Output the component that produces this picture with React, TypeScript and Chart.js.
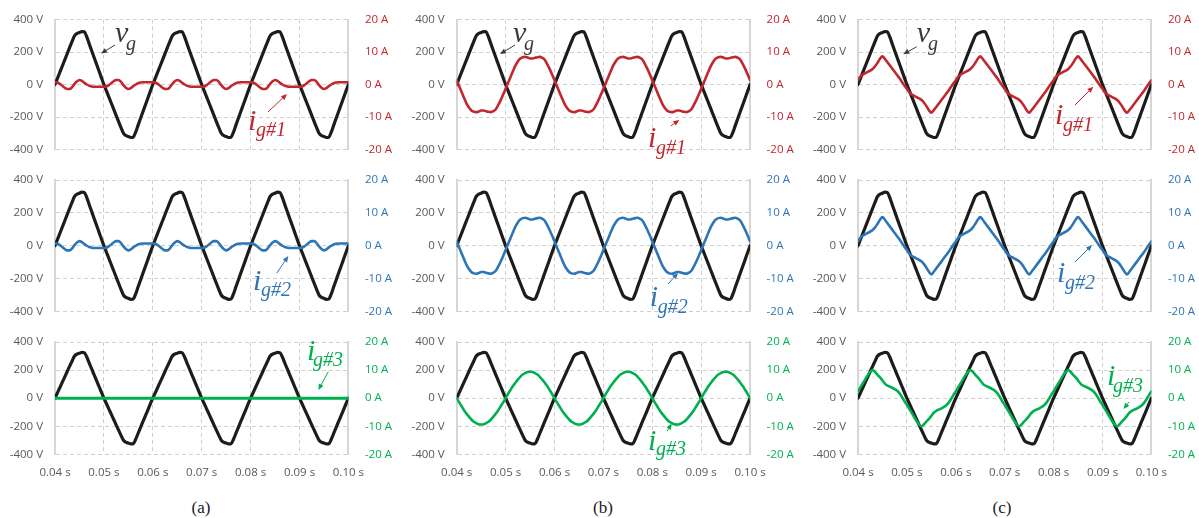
import React, { useEffect, useRef } from "react";
import { Chart, registerables } from "chart.js";

Chart.register(...registerables);

// ---------------- data ----------------
// sample instants: every 0.5 ms from 0.04 s to 0.10 s (121 samples)
const TIMES: number[] = Array.from({ length: 121 }, (_, i) => Math.round((0.04 + i * 0.0005) * 10000) / 10000);

// grid voltage v_g (V) — identical in all nine panels
const VOLTAGE: number[] = [
  0,
  38, 76, 114, 152, 190, 228, 265, 300, 314, 320, 326, 324, 293, 250, 208, 166, 125, 83, 41, 0,
  -38, -76, -114, -152, -190, -228, -265, -300, -314, -320, -326, -324, -293, -250, -208, -166, -125, -83, -41, 0,
  38, 76, 114, 152, 190, 228, 265, 300, 314, 320, 326, 324, 293, 250, 208, 166, 125, 83, 41, 0,
  -38, -76, -114, -152, -190, -228, -265, -300, -314, -320, -326, -324, -293, -250, -208, -166, -125, -83, -41, 0,
  38, 76, 114, 152, 190, 228, 265, 300, 314, 320, 326, 324, 293, 250, 208, 166, 125, 83, 41, 0,
  -38, -76, -114, -152, -190, -228, -265, -300, -314, -320, -326, -324, -293, -250, -208, -166, -125, -83, -41, 0,
];

// (a) i_g#1 and i_g#2 (identical in the picture), A
const CURRENT_A_12: number[] = [
  0.7,
  0.6, 0.2, -0.4, -1.0, -1.4, -1.4, -0.8, 0.2, 1.0, 1.4, 1.1, 0.5, 0.0, -0.4, -0.6, -0.7, -0.7, -0.7, -0.7, -0.7,
  -0.6, -0.2, 0.4, 1.0, 1.4, 1.4, 0.8, -0.2, -1.0, -1.4, -1.1, -0.5, 0.0, 0.4, 0.6, 0.7, 0.7, 0.7, 0.7, 0.7,
  0.6, 0.2, -0.4, -1.0, -1.4, -1.4, -0.8, 0.2, 1.0, 1.4, 1.1, 0.5, 0.0, -0.4, -0.6, -0.7, -0.7, -0.7, -0.7, -0.7,
  -0.6, -0.2, 0.4, 1.0, 1.4, 1.4, 0.8, -0.2, -1.0, -1.4, -1.1, -0.5, 0.0, 0.4, 0.6, 0.7, 0.7, 0.7, 0.7, 0.7,
  0.6, 0.2, -0.4, -1.0, -1.4, -1.4, -0.8, 0.2, 1.0, 1.4, 1.1, 0.5, 0.0, -0.4, -0.6, -0.7, -0.7, -0.7, -0.7, -0.7,
  -0.6, -0.2, 0.4, 1.0, 1.4, 1.4, 0.8, -0.2, -1.0, -1.4, -1.1, -0.5, 0.0, 0.4, 0.6, 0.7, 0.7, 0.7, 0.7, 0.7,
];

// (a) i_g#3, A
const CURRENT_A_3: number[] = [
  0,
  0, 0, 0, 0, 0, 0, 0, 0, 0, 0, 0, 0, 0, 0, 0, 0, 0, 0, 0, 0,
  0, 0, 0, 0, 0, 0, 0, 0, 0, 0, 0, 0, 0, 0, 0, 0, 0, 0, 0, 0,
  0, 0, 0, 0, 0, 0, 0, 0, 0, 0, 0, 0, 0, 0, 0, 0, 0, 0, 0, 0,
  0, 0, 0, 0, 0, 0, 0, 0, 0, 0, 0, 0, 0, 0, 0, 0, 0, 0, 0, 0,
  0, 0, 0, 0, 0, 0, 0, 0, 0, 0, 0, 0, 0, 0, 0, 0, 0, 0, 0, 0,
  0, 0, 0, 0, 0, 0, 0, 0, 0, 0, 0, 0, 0, 0, 0, 0, 0, 0, 0, 0,
];

// (b) i_g#1 and i_g#2, A
const CURRENT_B_12: number[] = [
  1.3,
  -0.5, -2.3, -4.1, -5.8, -7.1, -8.0, -8.4, -8.5, -8.3, -8.0, -8.0, -8.2, -8.4, -8.5, -8.2, -7.6, -6.3, -4.8, -3.1, -1.3,
  0.5, 2.3, 4.1, 5.8, 7.1, 8.0, 8.4, 8.5, 8.3, 8.0, 8.0, 8.2, 8.4, 8.5, 8.2, 7.6, 6.3, 4.8, 3.1, 1.3,
  -0.5, -2.3, -4.1, -5.8, -7.1, -8.0, -8.4, -8.5, -8.3, -8.0, -8.0, -8.2, -8.4, -8.5, -8.2, -7.6, -6.3, -4.8, -3.1, -1.3,
  0.5, 2.3, 4.1, 5.8, 7.1, 8.0, 8.4, 8.5, 8.3, 8.0, 8.0, 8.2, 8.4, 8.5, 8.2, 7.6, 6.3, 4.8, 3.1, 1.3,
  -0.5, -2.3, -4.1, -5.8, -7.1, -8.0, -8.4, -8.5, -8.3, -8.0, -8.0, -8.2, -8.4, -8.5, -8.2, -7.6, -6.3, -4.8, -3.1, -1.3,
  0.5, 2.3, 4.1, 5.8, 7.1, 8.0, 8.4, 8.5, 8.3, 8.0, 8.0, 8.2, 8.4, 8.5, 8.2, 7.6, 6.3, 4.8, 3.1, 1.3,
];

// (b) i_g#3, A
const CURRENT_B_3: number[] = [
  0,
  -1.5, -2.9, -4.3, -5.5, -6.6, -7.6, -8.4, -8.9, -9.3, -9.4, -9.3, -8.9, -8.4, -7.6, -6.6, -5.5, -4.3, -2.9, -1.5, 0,
  1.5, 2.9, 4.3, 5.5, 6.6, 7.6, 8.4, 8.9, 9.3, 9.4, 9.3, 8.9, 8.4, 7.6, 6.6, 5.5, 4.3, 2.9, 1.5, 0,
  -1.5, -2.9, -4.3, -5.5, -6.6, -7.6, -8.4, -8.9, -9.3, -9.4, -9.3, -8.9, -8.4, -7.6, -6.6, -5.5, -4.3, -2.9, -1.5, 0,
  1.5, 2.9, 4.3, 5.5, 6.6, 7.6, 8.4, 8.9, 9.3, 9.4, 9.3, 8.9, 8.4, 7.6, 6.6, 5.5, 4.3, 2.9, 1.5, 0,
  -1.5, -2.9, -4.3, -5.5, -6.6, -7.6, -8.4, -8.9, -9.3, -9.4, -9.3, -8.9, -8.4, -7.6, -6.6, -5.5, -4.3, -2.9, -1.5, 0,
  1.5, 2.9, 4.3, 5.5, 6.6, 7.6, 8.4, 8.9, 9.3, 9.4, 9.3, 8.9, 8.4, 7.6, 6.6, 5.5, 4.3, 2.9, 1.5, 0,
];

// (c) i_g#1 and i_g#2, A
const CURRENT_C_12: number[] = [
  1.3,
  2.4, 3.1, 3.5, 3.9, 4.3, 4.8, 5.6, 6.7, 7.9, 8.7, 7.9, 6.9, 5.9, 4.9, 3.9, 2.9, 1.9, 0.8, -0.3, -1.3,
  -2.4, -3.1, -3.5, -3.9, -4.3, -4.8, -5.6, -6.7, -7.9, -8.7, -7.9, -6.9, -5.9, -4.9, -3.9, -2.9, -1.9, -0.8, 0.3, 1.3,
  2.4, 3.1, 3.5, 3.9, 4.3, 4.8, 5.6, 6.7, 7.9, 8.7, 7.9, 6.9, 5.9, 4.9, 3.9, 2.9, 1.9, 0.8, -0.3, -1.3,
  -2.4, -3.1, -3.5, -3.9, -4.3, -4.8, -5.6, -6.7, -7.9, -8.7, -7.9, -6.9, -5.9, -4.9, -3.9, -2.9, -1.9, -0.8, 0.3, 1.3,
  2.4, 3.1, 3.5, 3.9, 4.3, 4.8, 5.6, 6.7, 7.9, 8.7, 7.9, 6.9, 5.9, 4.9, 3.9, 2.9, 1.9, 0.8, -0.3, -1.3,
  -2.4, -3.1, -3.5, -3.9, -4.3, -4.8, -5.6, -6.7, -7.9, -8.7, -7.9, -6.9, -5.9, -4.9, -3.9, -2.9, -1.9, -0.8, 0.3, 1.3,
];

// (c) i_g#3, A
const CURRENT_C_3: number[] = [
  2.4,
  3.9, 5.3, 6.8, 8.2, 9.4, 10.0, 9.3, 8.3, 7.4, 6.3, 5.2, 4.5, 4.1, 3.7, 3.2, 2.6, 1.7, 0.4, -1.1, -2.4,
  -3.9, -5.3, -6.8, -8.2, -9.4, -10.0, -9.3, -8.3, -7.4, -6.3, -5.2, -4.5, -4.1, -3.7, -3.2, -2.6, -1.7, -0.4, 1.1, 2.4,
  3.9, 5.3, 6.8, 8.2, 9.4, 10.0, 9.3, 8.3, 7.4, 6.3, 5.2, 4.5, 4.1, 3.7, 3.2, 2.6, 1.7, 0.4, -1.1, -2.4,
  -3.9, -5.3, -6.8, -8.2, -9.4, -10.0, -9.3, -8.3, -7.4, -6.3, -5.2, -4.5, -4.1, -3.7, -3.2, -2.6, -1.7, -0.4, 1.1, 2.4,
  3.9, 5.3, 6.8, 8.2, 9.4, 10.0, 9.3, 8.3, 7.4, 6.3, 5.2, 4.5, 4.1, 3.7, 3.2, 2.6, 1.7, 0.4, -1.1, -2.4,
  -3.9, -5.3, -6.8, -8.2, -9.4, -10.0, -9.3, -8.3, -7.4, -6.3, -5.2, -4.5, -4.1, -3.7, -3.2, -2.6, -1.7, -0.4, 1.1, 2.4,
];

// ticks
const X_TICKS = [0.04, 0.05, 0.06, 0.07, 0.08, 0.09, 0.1];
const X_TICK_LABELS = ["0.04 s", "0.05 s", "0.06 s", "0.07 s", "0.08 s", "0.09 s", "0.10 s"];
const V_TICKS = [-400, -200, 0, 200, 400];
const V_TICK_LABELS = ["-400 V", "-200 V", "0 V", "200 V", "400 V"];
const A_TICKS = [-20, -10, 0, 10, 20];
const A_TICK_LABELS = ["-20 A", "-10 A", "0 A", "10 A", "20 A"];
const PANEL_LABELS = ["(a)", "(b)", "(c)"];

// ---------------- styling / layout ----------------
const RED = "#C1272D";
const BLUE = "#2E75B6";
const GREEN = "#00B050";
const VOLT_COLOR = "#1C1C1C";
const VG_TEXT = "#3A3A3A";
const GRID = "#D0D0D0";
const AXIS_LINE = "#D6D6D6";
const LEFT_TICK_COLOR = "#595959";
const SANS = '"Open Sans", "DejaVu Sans", sans-serif';
const SERIF = '"Liberation Serif", "DejaVu Serif", serif';

const CANVAS_W = 395;
const PLOT_W = 293.4;
const COLS = [
  { left: 0, leftW: 55 },
  { left: 401, leftW: 55.7 },
  { left: 803, leftW: 55 },
];
const ROWS = [
  { top: 0, h: 162, padTop: 19.5, padBottom: 12.5, xH: 0 },
  { top: 165, h: 160, padTop: 15, padBottom: 13.5, xH: 0 },
  { top: 328, h: 162, padTop: 14, padBottom: 5.7, xH: 30 },
];
const LABEL_CENTERS = [201, 603, 1002];

type Note = {
  main: string; sub: string; color: string;
  mx: number; my: number; sx: number; sy: number;
  ax1: number; ay1: number; ax2: number; ay2: number;
};

type PanelSpec = {
  col: number; row: number; current: number[]; color: string; width: number; notes: Note[];
};

const vg = (mx: number, sx: number, a: [number, number, number, number]): Note => ({
  main: "v", sub: "g", color: VG_TEXT, mx, my: 22.5, sx, sy: 30,
  ax1: a[0], ay1: a[1], ax2: a[2], ay2: a[3],
});
const ig = (sub: string, color: string, p: number[]): Note => ({
  main: "i", sub, color, mx: p[0], my: p[1], sx: p[2], sy: p[3],
  ax1: p[4], ay1: p[5], ax2: p[6], ay2: p[7],
});

const PANELS: PanelSpec[] = [
  { col: 0, row: 0, current: CURRENT_A_12, color: RED, width: 2.6,
    notes: [vg(60, 71, [60, 25.5, 46, 34]), ig("g#1", RED, [193, 110.5, 201, 116.5, 213, 92.5, 232, 74.5])] },
  { col: 1, row: 0, current: CURRENT_B_12, color: RED, width: 2.6,
    notes: [vg(56.3, 67.3, [58.3, 25.5, 43.3, 34.5]), ig("g#1", RED, [191.3, 127.5, 199.3, 134, 214, 106.5, 222.6, 100.5])] },
  { col: 2, row: 0, current: CURRENT_C_12, color: RED, width: 2.6,
    notes: [vg(58.7, 70, [58.7, 27.2, 45.3, 34.8]), ig("g#1", RED, [197, 104.5, 205, 111, 217, 85.5, 235.3, 67.2])] },
  { col: 0, row: 1, current: CURRENT_A_12, color: BLUE, width: 2.6,
    notes: [ig("g#2", BLUE, [198, 110, 206, 115.5, 221.7, 93.3, 233.3, 76])] },
  { col: 1, row: 1, current: CURRENT_B_12, color: BLUE, width: 2.6,
    notes: [ig("g#2", BLUE, [193, 126, 201, 132.5, 211.3, 104, 221.3, 93])] },
  { col: 2, row: 1, current: CURRENT_C_12, color: BLUE, width: 2.6,
    notes: [ig("g#2", BLUE, [199, 102, 207, 108.5, 217, 82, 234, 65])] },
  { col: 0, row: 2, current: CURRENT_A_3, color: GREEN, width: 3,
    notes: [ig("g#3", GREEN, [252, 18, 258, 23.5, 273.3, 29.7, 263.3, 48])] },
  { col: 1, row: 2, current: CURRENT_B_3, color: GREEN, width: 2.6,
    notes: [ig("g#3", GREEN, [191.3, 108, 199.3, 113, 210.5, 89, 215, 81.5])] },
  { col: 2, row: 2, current: CURRENT_C_3, color: GREEN, width: 2.6,
    notes: [ig("g#3", GREEN, [249, 43, 255, 49.5, 271, 60, 265.5, 67])] },
];

function drawNotes(chart: any, notes: Note[]) {
  const { ctx, chartArea } = chart;
  const left = chartArea.left;
  const top = chartArea.top;
  ctx.save();
  for (const n of notes) {
    ctx.fillStyle = n.color;
    ctx.textAlign = "left";
    ctx.textBaseline = "alphabetic";
    ctx.font = `italic 30px ${SERIF}`;
    ctx.fillText(n.main, left + n.mx, top + n.my);
    ctx.font = `italic 20px ${SERIF}`;
    ctx.fillText(n.sub, left + n.sx, top + n.sy);
    const x1 = left + n.ax1, y1 = top + n.ay1, x2 = left + n.ax2, y2 = top + n.ay2;
    const ang = Math.atan2(y2 - y1, x2 - x1);
    const L = 6, W = 2.6;
    ctx.strokeStyle = n.color;
    ctx.lineWidth = 1;
    ctx.beginPath();
    ctx.moveTo(x1, y1);
    ctx.lineTo(x2 - 3 * Math.cos(ang), y2 - 3 * Math.sin(ang));
    ctx.stroke();
    ctx.beginPath();
    ctx.moveTo(x2, y2);
    ctx.lineTo(x2 - L * Math.cos(ang) + W * Math.sin(ang), y2 - L * Math.sin(ang) - W * Math.cos(ang));
    ctx.lineTo(x2 - L * Math.cos(ang) - W * Math.sin(ang), y2 - L * Math.sin(ang) + W * Math.cos(ang));
    ctx.closePath();
    ctx.fill();
  }
  ctx.restore();
}

function zeroPadding(s: any) {
  s.paddingTop = 0;
  s.paddingBottom = 0;
  s.paddingLeft = 0;
  s.paddingRight = 0;
}

function buildConfig(p: PanelSpec): any {
  const col = COLS[p.col];
  const row = ROWS[p.row];
  const rightW = CANVAS_W - col.leftW - PLOT_W;
  const tickFont = { family: SANS, size: 11.5 };
  const lineCommon = {
    pointRadius: 0,
    pointHoverRadius: 0,
    fill: false,
    cubicInterpolationMode: "monotone",
    borderJoinStyle: "round",
    borderCapStyle: "round",
  };
  return {
    type: "line",
    data: {
      datasets: [
        {
          ...lineCommon,
          label: "i_g",
          data: TIMES.map((t, i) => ({ x: t, y: p.current[i] })),
          yAxisID: "y1",
          borderColor: p.color,
          borderWidth: p.width,
        },
        {
          ...lineCommon,
          label: "v_g",
          data: TIMES.map((t, i) => ({ x: t, y: VOLTAGE[i] })),
          yAxisID: "y",
          borderColor: VOLT_COLOR,
          borderWidth: 3.2,
        },
      ],
    },
    options: {
      animation: false,
      responsive: false,
      maintainAspectRatio: false,
      events: [],
      layout: { padding: { top: row.padTop, bottom: row.padBottom, left: 0, right: 0 } },
      plugins: { legend: { display: false }, tooltip: { enabled: false } },
      scales: {
        x: {
          type: "linear",
          min: 0.04,
          max: 0.1,
          afterBuildTicks: (s: any) => { s.ticks = X_TICKS.map((v) => ({ value: v })); },
          afterFit: (s: any) => { s.height = row.xH; zeroPadding(s); },
          ticks: {
            display: p.row === 2,
            autoSkip: false,
            maxRotation: 0,
            padding: 12,
            color: LEFT_TICK_COLOR,
            font: tickFont,
            callback: (_v: any, i: number) => X_TICK_LABELS[i],
          },
          grid: { color: GRID, lineWidth: 1, drawTicks: false },
          border: { display: false, dash: [4, 3] },
        },
        y: {
          position: "left",
          min: -400,
          max: 400,
          afterBuildTicks: (s: any) => { s.ticks = V_TICKS.map((v) => ({ value: v })); },
          afterFit: (s: any) => { s.width = col.leftW; zeroPadding(s); },
          ticks: {
            padding: 12,
            color: LEFT_TICK_COLOR,
            font: tickFont,
            callback: (_v: any, i: number) => V_TICK_LABELS[i],
          },
          grid: { color: GRID, lineWidth: 1, drawTicks: false },
          border: { display: true, color: AXIS_LINE, width: 2, dash: [4, 3] },
        },
        y1: {
          position: "right",
          min: -20,
          max: 20,
          afterBuildTicks: (s: any) => { s.ticks = A_TICKS.map((v) => ({ value: v })); },
          afterFit: (s: any) => { s.width = rightW; zeroPadding(s); },
          ticks: {
            padding: 16.5,
            color: p.color,
            font: tickFont,
            callback: (_v: any, i: number) => A_TICK_LABELS[i],
          },
          grid: { display: false, drawOnChartArea: false, drawTicks: false },
          border: { display: true, color: AXIS_LINE, width: 2 },
        },
      },
    },
    plugins: [
      {
        id: "panelNotes",
        afterDatasetsDraw(chart: any) { drawNotes(chart, p.notes); },
      },
    ],
  };
}

function Panel({ spec }: { spec: PanelSpec }) {
  const ref = useRef<HTMLCanvasElement | null>(null);
  const col = COLS[spec.col];
  const row = ROWS[spec.row];
  useEffect(() => {
    if (!ref.current) return;
    const chart = new Chart(ref.current, buildConfig(spec));
    return () => chart.destroy();
  }, [spec]);
  return (
    <canvas
      ref={ref}
      width={CANVAS_W}
      height={row.h}
      style={{ position: "absolute", left: col.left, top: row.top, width: CANVAS_W, height: row.h, display: "block" }}
    />
  );
}

export default function App() {
  return (
    <div style={{ position: "absolute", left: 0, top: 0, width: 1199, height: 518, background: "#ffffff", overflow: "hidden" }}>
      {PANELS.map((p, i) => (
        <Panel key={i} spec={p} />
      ))}
      {PANEL_LABELS.map((t, i) => (
        <div
          key={t}
          style={{
            position: "absolute",
            left: LABEL_CENTERS[i] - 30,
            width: 60,
            top: 499,
            textAlign: "center",
            fontFamily: SERIF,
            fontSize: 17,
            lineHeight: "17px",
            color: "#1a1a1a",
          }}
        >
          {t}
        </div>
      ))}
    </div>
  );
}
